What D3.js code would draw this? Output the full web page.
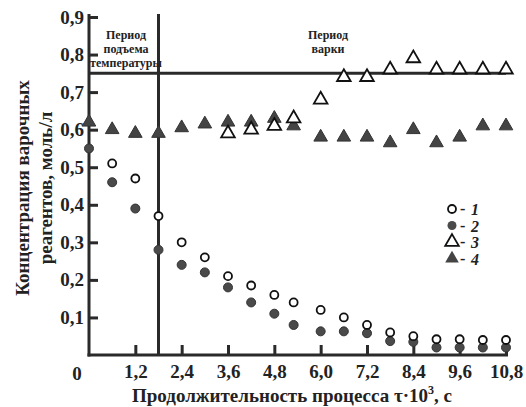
<!DOCTYPE html>
<html>
<head>
<meta charset="utf-8">
<script src="https://cdn.jsdelivr.net/npm/d3@7"></script>
<style>
  body { margin: 0; background: #fff; }
  text { font-family: "Liberation Serif", "Times New Roman", serif; font-weight: bold; fill: #222; }
</style>
</head>
<body>
<div id="chart"></div>
<script>
// data
const xs1 = [0.6, 1.2, 1.8, 2.4, 3.0, 3.6, 4.2, 4.8, 5.3, 6.0, 6.6, 7.2, 7.8, 8.4, 9.0, 9.6, 10.2, 10.8];
const s1 = [0.51, 0.47, 0.37, 0.30, 0.26, 0.21, 0.185, 0.16, 0.14, 0.12, 0.10, 0.08, 0.06, 0.05, 0.042, 0.042, 0.04, 0.04];
const xs2 = [0, 0.6, 1.2, 1.8, 2.4, 3.0, 3.6, 4.2, 4.8, 5.3, 6.0, 6.6, 7.2, 7.8, 8.4, 9.0, 9.6, 10.2, 10.8];
const s2 = [0.55, 0.46, 0.39, 0.28, 0.24, 0.22, 0.18, 0.14, 0.11, 0.08, 0.063, 0.063, 0.058, 0.037, 0.035, 0.02, 0.02, 0.02, 0.02];
const xs3 = [3.6, 4.2, 4.8, 5.3, 6.0, 6.6, 7.2, 7.8, 8.4, 9.0, 9.6, 10.2, 10.8];
const s3 = [0.59, 0.60, 0.61, 0.63, 0.68, 0.74, 0.74, 0.76, 0.79, 0.76, 0.76, 0.76, 0.76];
const xs4 = [0, 0.6, 1.2, 1.8, 2.4, 3.0, 3.6, 4.2, 4.8, 5.3, 6.0, 6.6, 7.2, 7.8, 8.4, 9.0, 9.6, 10.2, 10.8];
const s4 = [0.62, 0.60, 0.59, 0.59, 0.605, 0.615, 0.62, 0.62, 0.63, 0.61, 0.58, 0.58, 0.58, 0.565, 0.60, 0.565, 0.58, 0.61, 0.61];
const xTicks = [1.2, 2.4, 3.6, 4.8, 6.0, 7.2, 8.4, 9.6, 10.8];
const yTicks = [0.1, 0.2, 0.3, 0.4, 0.5, 0.6, 0.7, 0.8, 0.9];
const heatEnd = 1.8;      // end of heating period
const targetLevel = 0.75; // horizontal line

const W = 526, H = 407;
const svg = d3.select("#chart").append("svg").attr("width", W).attr("height", H);

const x = d3.scaleLinear().domain([0, 10.8]).range([89, 506]);
const y = d3.scaleLinear().domain([0, 0.9]).range([355, 17]);
const fmt = d => d3.format(".1f")(d).replace(".", ",");
const ink = "#2a2a2a";

// axes
const xAxis = svg.append("g").attr("transform", `translate(0,${y(0)})`)
  .call(d3.axisBottom(x).tickValues(xTicks).tickSizeInner(-10).tickSizeOuter(0).tickPadding(10).tickFormat(fmt));
const yAxis = svg.append("g").attr("transform", `translate(${x(0)},0)`)
  .call(d3.axisLeft(y).tickValues(yTicks).tickSizeInner(-9).tickSizeOuter(0).tickPadding(5).tickFormat(fmt));
[xAxis, yAxis].forEach(a => {
  a.select(".domain").attr("stroke", ink).attr("stroke-width", 3);
  a.selectAll(".tick line").attr("stroke", ink).attr("stroke-width", 3);
  a.selectAll(".tick text").style("font-size", "19px").attr("fill", ink);
});
xAxis.select(".domain").attr("d", `M${x(0) - 1.5},0H${x(10.8) + 2}`);
yAxis.select(".domain").attr("d", `M0,${y(0) + 1.5}V${y(0.9) - 3}`);

svg.append("text").attr("x", 77).attr("y", 380).attr("text-anchor", "middle")
  .style("font-size", "19px").text("0");

// period lines
svg.append("line").attr("x1", x(heatEnd)).attr("x2", x(heatEnd))
  .attr("y1", y(0.9) - 3).attr("y2", y(0))
  .attr("stroke", ink).attr("stroke-width", 3);
svg.append("line").attr("x1", x(0)).attr("x2", x(10.8))
  .attr("y1", y(targetLevel)).attr("y2", y(targetLevel))
  .attr("stroke", ink).attr("stroke-width", 3);

// period labels
const lab1 = svg.append("text").attr("text-anchor", "middle").style("font-size", "12px");
["Период", "подъема", "температуры"].forEach((t, i) =>
  lab1.append("tspan").attr("x", 126).attr("y", 39 + i * 14).text(t));
const lab2 = svg.append("text").attr("text-anchor", "middle").style("font-size", "12px");
["Период", "варки"].forEach((t, i) =>
  lab2.append("tspan").attr("x", 328).attr("y", 39 + i * 14).text(t));

// markers
const tri = d3.symbol().type(d3.symbolTriangle).size(80);
const g = svg.append("g");
g.selectAll(".s2").data(xs2.map((v, i) => [v, s2[i]])).join("circle")
  .attr("cx", d => x(d[0])).attr("cy", d => y(d[1])).attr("r", 4.5)
  .attr("fill", "#4a4a4a").attr("stroke", "#333").attr("stroke-width", 1);
g.selectAll(".s1").data(xs1.map((v, i) => [v, s1[i]])).join("circle")
  .attr("cx", d => x(d[0])).attr("cy", d => y(d[1])).attr("r", 4)
  .attr("fill", "#fff").attr("stroke", "#111").attr("stroke-width", 1.8);
g.selectAll(".s4").data(xs4.map((v, i) => [v, s4[i]])).join("path")
  .attr("d", tri).attr("transform", d => `translate(${x(d[0])},${y(d[1])})`)
  .attr("fill", "#444").attr("stroke", "#333").attr("stroke-width", 1);
g.selectAll(".s3").data(xs3.map((v, i) => [v, s3[i]])).join("path")
  .attr("d", tri).attr("transform", d => `translate(${x(d[0])},${y(d[1])})`)
  .attr("fill", "#fff").attr("stroke", "#111").attr("stroke-width", 1.8);

// legend
const legend = [
  { n: "1", shape: "oc" }, { n: "2", shape: "fc" }, { n: "3", shape: "ot" }, { n: "4", shape: "ft" }
];
legend.forEach((d, i) => {
  const ly = 209 + i * 16.5;
  if (d.shape === "oc") svg.append("circle").attr("cx", 452).attr("cy", ly).attr("r", 4).attr("fill", "#fff").attr("stroke", "#111").attr("stroke-width", 1.8);
  if (d.shape === "fc") svg.append("circle").attr("cx", 452).attr("cy", ly).attr("r", 4.5).attr("fill", "#4a4a4a");
  if (d.shape === "ot") svg.append("path").attr("d", tri).attr("transform", `translate(452,${ly})`).attr("fill", "#fff").attr("stroke", "#111").attr("stroke-width", 1.8);
  if (d.shape === "ft") svg.append("path").attr("d", tri).attr("transform", `translate(452,${ly})`).attr("fill", "#444");
  svg.append("text").attr("x", 460).attr("y", ly + 5).style("font-size", "16px").text("-");
  svg.append("text").attr("x", 471).attr("y", ly + 6).style("font-size", "16px").style("font-style", "italic").text(d.n);
});

// axis titles
const yt = svg.append("text").attr("transform", "translate(0,188) rotate(-90)")
  .attr("text-anchor", "middle").style("font-size", "19px");
yt.append("tspan").attr("x", 0).attr("y", 29).text("Концентрация варочных");
yt.append("tspan").attr("x", 0).attr("y", 52).text("реагентов, моль/л");

const xt = svg.append("text").attr("x", 292).attr("y", 402).attr("text-anchor", "middle").style("font-size", "19px");
xt.append("tspan").text("Продолжительность процесса τ·10");
xt.append("tspan").attr("dy", -8).style("font-size", "12px").text("3");
xt.append("tspan").attr("dy", 8).text(", с");
</script>
</body>
</html>
